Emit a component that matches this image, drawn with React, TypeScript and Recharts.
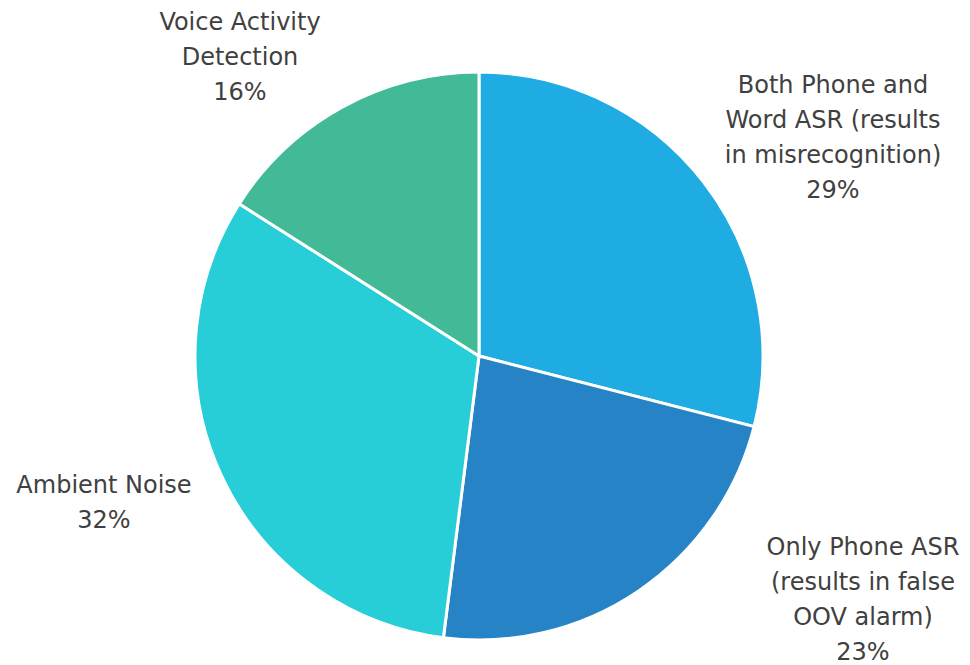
import { Cell, Pie, PieChart } from "recharts";

const categories = [
  "Both Phone and Word ASR (results in misrecognition)",
  "Only Phone ASR (results in false OOV alarm)",
  "Ambient Noise",
  "Voice Activity Detection"
];
const shares = [29, 23, 32, 16];
// how each category name wraps in the label
const labelLines = [
  ["Both Phone and", "Word ASR (results", "in misrecognition)"],
  ["Only Phone ASR", "(results in false", "OOV alarm)"],
  ["Ambient Noise"],
  ["Voice Activity", "Detection"]
];

const colors = ["#1face3", "#2683c6", "#27ced7", "#42ba97"];
// label anchor relative to the pie centre (x = line centre, y = first baseline)
const labelOffsets = [
  { dx: 354, dy: -263 },
  { dx: 384, dy: 199 },
  { dx: -375, dy: 137 },
  { dx: -239, dy: -326 }
];

const data = categories.map((name, i) => ({ name, value: shares[i] }));

const LINE_HEIGHT = 35;

function renderLabel(props: any) {
  const { cx, cy, index, percent } = props;
  const off = labelOffsets[index];
  const lines = [...labelLines[index], `${Math.round(percent * 100)}%`];
  return (
    <text
      x={cx + off.dx}
      y={cy + off.dy}
      textAnchor="middle"
      fill="#404040"
      fontSize={24}
      fontFamily="'DejaVu Sans', sans-serif"
    >
      {lines.map((line, i) => (
        <tspan key={i} x={cx + off.dx} y={cy + off.dy + i * LINE_HEIGHT}>
          {line}
        </tspan>
      ))}
    </text>
  );
}

export default function App() {
  return (
    <div style={{ position: "absolute", left: 0, top: 0, width: 970, height: 665, background: "#fff" }}>
      <PieChart width={970} height={665} margin={{ top: 0, right: 0, bottom: 0, left: 0 }}>
        <Pie
          data={data}
          dataKey="value"
          nameKey="name"
          cx={479}
          cy={356}
          outerRadius={284}
          startAngle={90}
          endAngle={-270}
          stroke="#ffffff"
          strokeWidth={3}
          label={renderLabel}
          labelLine={false}
          isAnimationActive={false}
        >
          {data.map((d, i) => (
            <Cell key={d.name} fill={colors[i]} />
          ))}
        </Pie>
      </PieChart>
    </div>
  );
}
